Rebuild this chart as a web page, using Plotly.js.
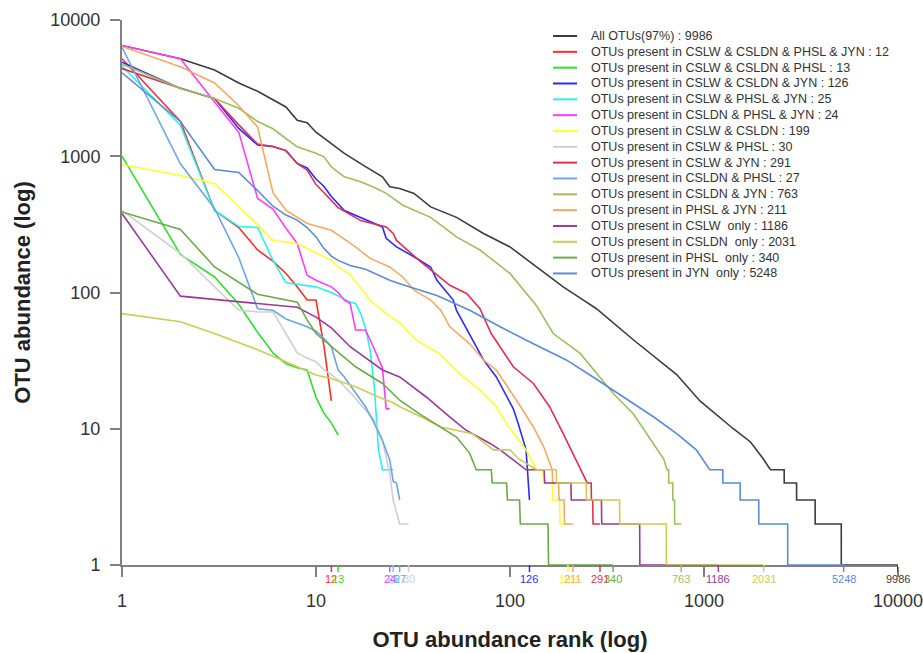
<!DOCTYPE html>
<html><head><meta charset="utf-8">
<script src="https://cdn.plot.ly/plotly-3.0.1.min.js"></script>
<style>html,body{margin:0;padding:0;background:#fff}</style>
</head><body><div id="chart" style="width:923px;height:653px"></div>
<script>
// ---------- data ----------
const seriesNames = [
  "All OTUs(97%) : 9986",
  "OTUs present in CSLW & CSLDN & PHSL & JYN : 12",
  "OTUs present in CSLW & CSLDN & PHSL : 13",
  "OTUs present in CSLW & CSLDN & JYN : 126",
  "OTUs present in CSLW & PHSL & JYN : 25",
  "OTUs present in CSLDN & PHSL & JYN : 24",
  "OTUs present in CSLW & CSLDN : 199",
  "OTUs present in CSLW & PHSL : 30",
  "OTUs present in CSLW & JYN : 291",
  "OTUs present in CSLDN & PHSL : 27",
  "OTUs present in CSLDN & JYN : 763",
  "OTUs present in PHSL & JYN : 211",
  "OTUs present in CSLW\u00a0 only : 1186",
  "OTUs present in CSLDN\u00a0 only : 2031",
  "OTUs present in PHSL\u00a0 only : 340",
  "OTUs present in JYN\u00a0 only : 5248"
];
const seriesCounts = [9986, 12, 13, 126, 25, 24, 199, 30, 291, 27, 763, 211, 1186, 2031, 340, 5248];
const seriesColors = ["#3c3c3c", "#ff2a2a", "#2ee02e", "#2a2aff", "#2af0f0", "#ff3cff", "#ffff2a", "#cfcfcf",
                      "#e0304e", "#6aa6e6", "#9cbf5a", "#f2aa62", "#9a3a9a", "#cccc55", "#6aaa48", "#5a8ad8"];

const rankAll = [1,2,3,4,5,6,7,8,9,10,12,14,18,22,24,27,32,39,53,73,100,137,188,239,279,432,723,953,1416,1737,2022,2200,2590,2591,3000,3001,3740,3741,5100,5101,9986];
const abundAll = [6500,5200,4300,3450,3000,2600,2300,1840,1760,1500,1240,1050,840,706,597,580,534,425,356,271,216,154,110,88,76,45,25,16,10,8,6,5,5,4,4,3,3,2,2,1,1];

const rankR12 = [1,2,3,4,5,6,7,8,9,10,11,12];
const abundR12 = [5200,1800,400,300,205,170,138,110,88,88,40,16];

const rankG13 = [1,2,3,4,5,6,7,8,9,10,11,12,13];
const abundG13 = [1000,190,130,82,51,36,30,28,27,17,13,11,9];

const rankB126 = [1,2,3,4,5,6,7,8,9,10,11,12,14,17,22,23,26,32,39,42,51,53,73,85,104,110,121,123,124,126];
const abundB126 = [4900,3150,2650,1600,1210,1180,1100,886,820,680,600,507,400,355,303,250,216,183,154,123,88,74,32,24,14,11,7,5,4,3];

const rankC25 = [1,2,3,4,5,6,7,8,10,12,15,16,17,18,19,20,21,22,25];
const abundC25 = [4600,1690,400,305,300,172,118,115,110,100,85,83,70,55,38,20,7,5,5];

const rankM24 = [1,2,3,4,5,6,7,8,9,10,12,13,14,15,16,18,19,20,21,22,23,24];
const abundM24 = [6500,5200,2500,1500,490,410,296,229,134,123,110,100,88,83,53,53,45,38,33,28,14,14];

const rankY199 = [1,2,3,4,5,6,8,10,12,13,15,17,19,23,27,33,43,55,70,85,96,108,121,137,148,149,165,166,180,181,199];
const abundY199 = [870,723,632,430,315,241,229,196,172,154,135,108,88,70,60,44.5,35.7,25.4,19.2,14.5,10.9,8.7,7,5,5,4,4,3,3,2,2];

const rankGy30 = [1,2,3,4,5,6,7,8,9,10,11,12,13,15,18,20,22,24,25,27,30];
const abundGy30 = [400,194,110,74,72,72,50,36,33,31,27,25,22.8,18.5,13.7,11.6,8.2,4.7,3,2,2];

const rankCr291 = [1,2,3,4,5,6,7,8,9,10,11,12,13,17,23,25,26,34,42,49,60,70,80,104,132,160,188,211,233,250,262,263,267,268,291];
const abundCr291 = [4400,3150,2650,1700,1230,1180,1100,886,790,620,540,470,420,337,303,271,241,172,134,113,98,76,50,28.5,21.5,14.5,9.2,6.6,5,4,4,3,3,2,2];

const rankLb27 = [1,2,3,4,5,6,7,9,10,11,12,13,14,16,18,20,22,24,25,26,27];
const abundLb27 = [6300,880,414,180,76,74,64,56,52,46,40,27,24,18.5,14.5,10.9,8.2,5.9,4.1,4,3];

const rankOl763 = [1,2,3,4,5,6,7,8,10,11,12,14,17,20,23,28,39,53,70,100,137,167,230,291,340,432,505,572,620,645,657,658,690,691,705,706,763];
const abundOl763 = [4750,3140,2655,2250,1800,1590,1350,1172,1050,990,836,706,650,590,534,437,356,256,205,138,80,50,35.7,24,18.2,12.9,9.2,7,6,5,5,4,4,3,3,2,2];

const rankOr211 = [1,2,3,4,5,6,7,9,12,16,19,24,28,32,39,44,49,62,73,85,108,132,149,160,165,166,178,179,190,191,211];
const abundOr211 = [6400,4530,3450,2350,1640,540,402,321,286,216,178,154,130,104,88,74,56,42,32,27,16.2,10.3,7.4,5.6,5,4,4,3,3,2,2];

const rankPu1186 = [1,2,5,8,10,12,15,22,27,33,37,48,59,79,89,104,121,150,151,206,207,296,297,466,467,1186];
const abundPu1186 = [380,94,83,78,66,55,40,27,24,19.2,17.1,12.5,9.8,7.8,7,5.9,5,5,4,4,3,3,2,2,1,1];

const rankYo2031 = [1,2,3,5,7,10,12,16,21,25,27,35,44,64,82,100,111,137,173,174,247,248,367,368,639,640,2031];
const abundYo2031 = [70,61,50,38,31,24.8,23.4,20.3,17.1,15.5,14.5,12.2,10.3,9.2,7,7,6,5,5,4,4,3,3,2,2,1,1];

const rankGr340 = [1,2,3,5,8,9,10,12,16,22,27,34,44,53,62,67,80,81,96,97,112,113,157,158,340];
const abundGr340 = [390,290,154,97,85,63,50,40,28.5,21.5,16.2,12.9,10.3,8.7,6.6,5,5,4,4,3,3,2,2,1,1];

const rankJ5248 = [1,2,3,4,5,6,7,8,9,10,11,12,13,15,18,24,27,42,62,89,132,195,268,320,433,551,723,913,1070,1250,1251,1535,1536,1915,1916,2700,2701,5248];
const abundJ5248 = [4100,1800,800,760,560,430,370,340,300,256,210,185,172,158,148,123,116,95,74,56,42,32,24,20.3,15.4,12.2,9.2,7,5,5,4,4,3,3,2,2,1,1];

const axisTickVals = [1, 10, 100, 1000, 10000];
const axisTickText = ["1", "10", "100", "1000", "10000"];

// ---------- build ----------
const seriesX = [rankAll, rankR12, rankG13, rankB126, rankC25, rankM24, rankY199, rankGy30,
                 rankCr291, rankLb27, rankOl763, rankOr211, rankPu1186, rankYo2031, rankGr340, rankJ5248];
const seriesY = [abundAll, abundR12, abundG13, abundB126, abundC25, abundM24, abundY199, abundGy30,
                 abundCr291, abundLb27, abundOl763, abundOr211, abundPu1186, abundYo2031, abundGr340, abundJ5248];

const FONT = "Liberation Sans, Arial, Helvetica, sans-serif";
const L = 122, R = 898, T = 20, B = 565, W = 923, H = 653;
const pw = R - L, ph = B - T;
const px2paperX = p => (p - L) / pw;
const px2paperY = p => (B - p) / ph;

const traces = seriesX.map((xs, i) => ({
  type: "scatter", mode: "lines", name: seriesNames[i],
  x: xs, y: seriesY[i],
  line: {color: seriesColors[i], width: 1.6},
  hoverinfo: "x+y+name", showlegend: false
}));

const shapes = [];
const annotations = [];

// coloured count markers under the x axis
seriesCounts.forEach((c, i) => {
  shapes.push({type: "line", xref: "x", yref: "paper", x0: c, x1: c, y0: 0, y1: -7 / ph,
               line: {color: seriesColors[i], width: 1.5}});
  annotations.push({xref: "x", yref: "paper", x: Math.log10(c), y: -14 / ph, text: String(c),
                    showarrow: false, xanchor: "center", yanchor: "middle",
                    font: {family: FONT, size: 11, color: seriesColors[i]}});
});

// legend (drawn by hand so rows are as tight as in the reference)
seriesNames.forEach((n, i) => {
  const yc = 36 + 15.83 * i;
  shapes.push({type: "line", xref: "paper", yref: "paper",
               x0: px2paperX(553), x1: px2paperX(577), y0: px2paperY(yc), y1: px2paperY(yc),
               line: {color: seriesColors[i], width: 2}});
  annotations.push({xref: "paper", yref: "paper", x: px2paperX(589), y: px2paperY(yc), text: n,
                    showarrow: false, xanchor: "left", yanchor: "middle",
                    font: {family: FONT, size: 12.5, color: "#333"}});
});

const layout = {
  width: W, height: H,
  margin: {l: L, r: W - R, t: T, b: H - B, pad: 0},
  paper_bgcolor: "#fff", plot_bgcolor: "#fff",
  showlegend: false,
  font: {family: FONT, color: "#333"},
  xaxis: {
    type: "log", range: [0, 4], automargin: false,
    showgrid: false, zeroline: false, showline: true, linecolor: "#808080", linewidth: 2,
    layer: "below traces",
    ticks: "outside", ticklen: 10, tickwidth: 2, tickcolor: "#808080",
    tickmode: "array", tickvals: axisTickVals, ticktext: axisTickText,
    tickfont: {family: FONT, size: 18, color: "#333"},
    ticklabelstandoff: 8, ticklabeloverflow: "allow",
    title: {text: "OTU abundance rank (log)", font: {family: FONT, size: 22, color: "#222", weight: "bold"}, standoff: 22}
  },
  yaxis: {
    type: "log", range: [0, 4], automargin: false,
    showgrid: false, zeroline: false, showline: true, linecolor: "#808080", linewidth: 2,
    layer: "below traces",
    ticks: "outside", ticklen: 10, tickwidth: 2, tickcolor: "#808080",
    tickmode: "array", tickvals: axisTickVals, ticktext: axisTickText,
    tickfont: {family: FONT, size: 18, color: "#333"},
    ticklabelstandoff: 6,
    title: {text: "OTU abundance (log)", font: {family: FONT, size: 22, color: "#222", weight: "bold"}, standoff: 14}
  },
  shapes: shapes,
  annotations: annotations
};

Plotly.newPlot("chart", traces, layout, {displayModeBar: false, staticPlot: true});
</script>
</body></html>
